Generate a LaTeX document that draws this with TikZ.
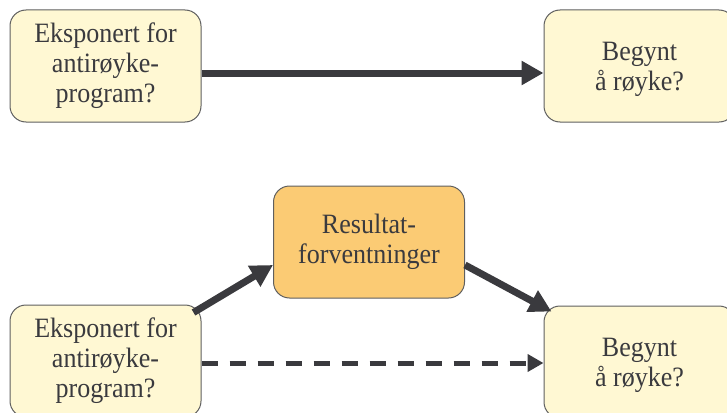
\documentclass[tikz,border=0pt]{standalone}
\usepackage{fontspec}
\setmainfont{Liberation Serif}[FakeStretch=0.93]
\usetikzlibrary{arrows.meta}
\definecolor{paleyellow}{RGB}{255,248,211}
\definecolor{softorange}{RGB}{251,203,116}
\definecolor{boxline}{RGB}{95,95,95}
\definecolor{ink}{RGB}{58,58,62}
\tikzset{
  box/.style={draw=boxline, line width=1pt, rounded corners=16pt,
    minimum width=191pt, minimum height=112pt, inner sep=0pt,
    align=center, text=ink, font=\fontsize{28}{30}\selectfont},
  plainbox/.style={box, fill=paleyellow},
  mediatorbox/.style={box, fill=softorange},
  arr/.style={draw=ink, line width=7pt,
    -{Triangle[length=22pt,width=23pt]}},
  dasharr/.style={draw=ink, line width=5pt, dash pattern=on 16pt off 12pt,
    -{Triangle[length=16pt,width=17pt]}}
}
% taller first line, so two-line labels sit a little lower in their boxes
\newcommand{\lowerstrut}{\rule{0pt}{24.5pt}}
\begin{document}
\begin{tikzpicture}[x=1pt,y=1pt]
  \useasboundingbox (0,0) rectangle (727,-412);
  \clip (0,0) rectangle (727,-412);

  % direct effect
  \node[plainbox] (a1) at (105.5,-66) {Eksponert for\\antirøyke-\\program?};
  \node[plainbox] (b1) at (639.5,-66) {\lowerstrut Begynt\\å røyke?};
  \draw[arr] ([yshift=-7]a1.east) -- ([yshift=-7]b1.west);

  % mediated effect
  \node[plainbox] (a2) at (105.5,-361) {Eksponert for\\antirøyke-\\program?};
  \node[mediatorbox] (m) at (369,-242) {Resultat-\\forventninger};
  \node[plainbox] (b2) at (639.5,-362) {\lowerstrut Begynt\\å røyke?};

  \draw[arr] ([shift={(-8,-8)}]a2.north east) -- ([yshift=-23]m.west);
  \draw[arr] ([yshift=-23]m.east) -- ([shift={(8,-6)}]b2.north west);
  \draw[dasharr] ([yshift=-2]a2.east) -- ([yshift=-1]b2.west);
\end{tikzpicture}
\end{document}
